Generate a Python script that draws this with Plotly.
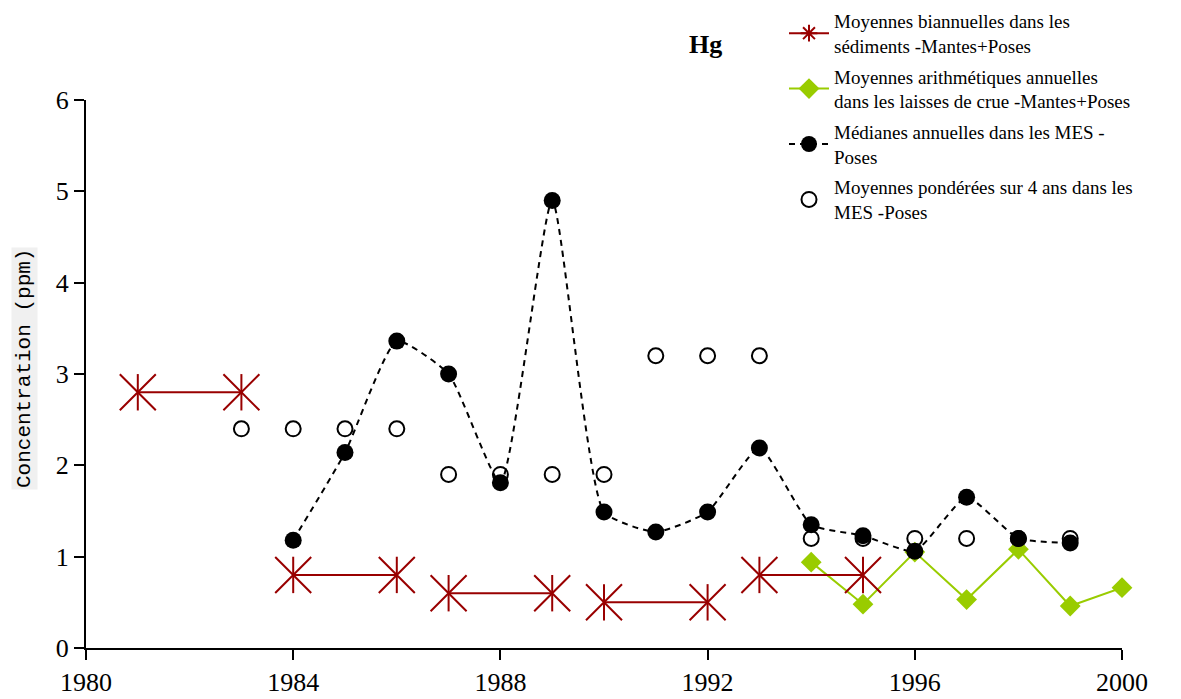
import plotly.graph_objects as go

# Biannual sediment means (pairs of years, gaps separate the periods)
sed_years = [1981, 1983, None, 1984, 1986, None, 1987, 1989, None, 1990, 1992, None, 1993, 1995]
sed_vals = [2.8, 2.8, None, 0.8, 0.8, None, 0.6, 0.6, None, 0.5, 0.5, None, 0.8, 0.8]

# Annual arithmetic means in flood deposits
crue_years = [1994, 1995, 1996, 1997, 1998, 1999, 2000]
crue_vals = [0.94, 0.48, 1.05, 0.53, 1.08, 0.46, 0.66]

# Annual medians in suspended matter (MES)
med_years = [1984, 1985, 1986, 1987, 1988, 1989, 1990, 1991, 1992, 1993,
             1994, 1995, 1996, 1997, 1998, 1999]
med_vals = [1.18, 2.14, 3.36, 3.0, 1.81, 4.9, 1.49, 1.27, 1.49, 2.19,
            1.35, 1.23, 1.06, 1.65, 1.2, 1.15]

# 4-year weighted means in MES
pond_years = [1983, 1984, 1985, 1986, 1987, 1988, 1989, 1990, 1991, 1992,
              1993, 1994, 1995, 1996, 1997, 1998, 1999]
pond_vals = [2.4, 2.4, 2.4, 2.4, 1.9, 1.9, 1.9, 1.9, 3.2, 3.2,
             3.2, 1.2, 1.2, 1.2, 1.2, 1.2, 1.2]

x_ticks = [1980, 1984, 1988, 1992, 1996, 2000]
y_ticks = [0, 1, 2, 3, 4, 5, 6]

RED = "#990000"
GREEN = "#99cc00"
SERIF = "Liberation Serif, Times New Roman, serif"

names = [
    "Moyennes biannuelles dans les<br>sédiments -Mantes+Poses",
    "Moyennes arithmétiques annuelles<br>dans les laisses de crue -Mantes+Poses",
    "Médianes annuelles dans les MES -<br>Poses",
    "Moyennes pondérées sur 4 ans dans les<br>MES -Poses",
]

fig = go.Figure()

# Flood-deposit means (drawn first so the sediment series sits above it)
fig.add_trace(go.Scatter(
    x=crue_years, y=crue_vals, mode="lines+markers", name=names[1],
    legendgroup="g2", legendrank=2,
    line=dict(color=GREEN, width=2),
    marker=dict(symbol="diamond", size=16, color=GREEN),
    cliponaxis=False))

# Sediment segments: line with X spokes plus a vertical bar for the star marker
fig.add_trace(go.Scatter(
    x=sed_years, y=sed_vals, mode="lines+markers", connectgaps=False,
    line=dict(color=RED, width=2),
    marker=dict(symbol="x-thin-open", size=36, color=RED, line=dict(color=RED, width=2)),
    showlegend=False, cliponaxis=False, hoverinfo="skip"))
fig.add_trace(go.Scatter(
    x=sed_years, y=sed_vals, mode="markers",
    marker=dict(symbol="line-ns-open", size=26, color=RED, line=dict(color=RED, width=2)),
    showlegend=False, cliponaxis=False, hoverinfo="skip"))
fig.add_trace(go.Scatter(
    x=[None], y=[None], mode="lines+markers", name=names[0],
    legendgroup="g1", legendrank=1,
    line=dict(color=RED, width=2),
    marker=dict(symbol="asterisk-open", size=14, color=RED, line=dict(color=RED, width=2))))

fig.add_trace(go.Scatter(
    x=pond_years, y=pond_vals, mode="markers", name=names[3],
    legendgroup="g4", legendrank=4,
    marker=dict(symbol="circle-open", size=15, color="black", line=dict(width=2)),
    cliponaxis=False))

fig.add_trace(go.Scatter(
    x=med_years, y=med_vals, mode="lines+markers", name=names[2],
    legendgroup="g3", legendrank=3,
    line=dict(color="black", width=2, dash="6px,5px", shape="spline", smoothing=0.5),
    marker=dict(symbol="circle", size=17, color="black"),
    cliponaxis=False))

fig.add_annotation(
    text="<b>Hg</b>", xref="paper", yref="paper",
    x=(705 - 86) / 1036, y=(648 - 45) / 548, xanchor="center", yanchor="middle",
    showarrow=False, font=dict(family=SERIF, size=26, color="black"))

fig.add_annotation(
    text="Concentration (ppm)", xref="paper", yref="paper",
    x=(24 - 86) / 1036, y=(648 - 369) / 548, xanchor="center", yanchor="middle",
    textangle=-90, showarrow=False, bgcolor="#f0f0f0", borderpad=1,
    font=dict(family="Liberation Mono, Courier New, monospace", size=21, color="black"))

fig.update_layout(
    width=1181, height=699,
    margin=dict(l=86, r=59, t=100, b=51, autoexpand=False),
    paper_bgcolor="white", plot_bgcolor="white",
    font=dict(family=SERIF, color="black"),
    legend=dict(
        xref="container", yref="container", x=784 / 1181, y=1 - 2 / 699,
        xanchor="left", yanchor="top", bgcolor="rgba(0,0,0,0)",
        font=dict(family=SERIF, size=19, color="black"),
        itemwidth=40, tracegroupgap=3, traceorder="grouped"),
    xaxis=dict(
        range=[1980, 2000], tickvals=x_ticks, ticktext=[str(v) for v in x_ticks],
        showgrid=False, zeroline=False, showline=True, linecolor="black", linewidth=2,
        ticks="outside", ticklen=10, tickwidth=2, tickcolor="black",
        tickfont=dict(family=SERIF, size=26, color="black")),
    yaxis=dict(
        range=[0, 6], tickvals=y_ticks, showgrid=False, zeroline=False,
        showline=True, linecolor="black", linewidth=2,
        ticks="outside", ticklen=10, tickwidth=2, tickcolor="black",
        tickfont=dict(family=SERIF, size=26, color="black")),
)

fig.write_html("out.html")
